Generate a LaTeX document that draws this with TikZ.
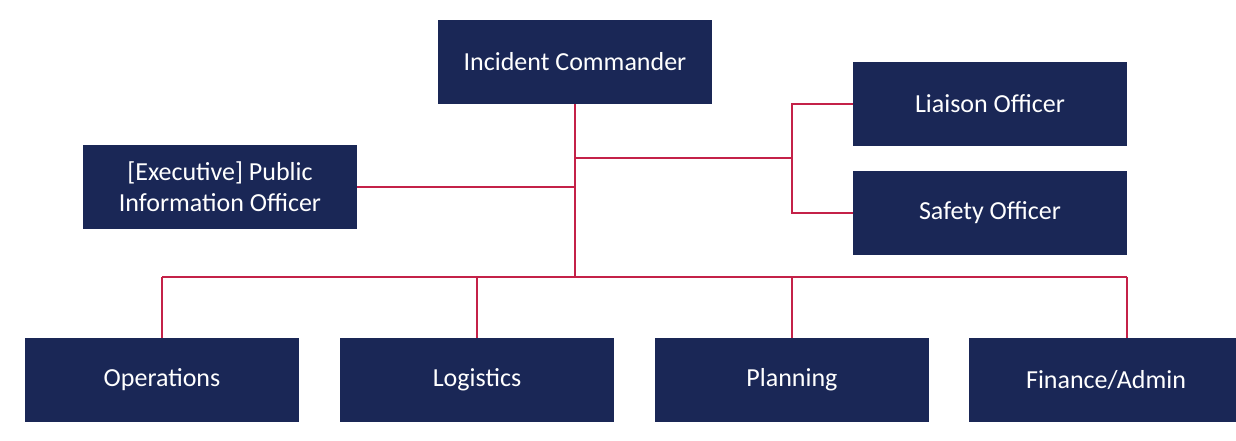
\documentclass[tikz,border=0pt]{standalone}
\usepackage{fontspec}
\setmainfont{Carlito}
\definecolor{navy}{HTML}{1A2756}
\definecolor{linkred}{HTML}{C42148}
\begin{document}
\begin{tikzpicture}[x=1pt,y=-1pt,
  box/.style={fill=navy, text=white, minimum width=274pt, minimum height=84pt, inner sep=0pt, align=center, font=\fontsize{26}{31}\selectfont},
  link/.style={draw=linkred, line width=1.3pt}]
\useasboundingbox (0,0) rectangle (1236,440);
\fill[white] (0,0) rectangle (1236,440);
\node[box] (ic) at (575,62) {Incident Commander};
\node[box] (pio) at (220,187) {[Executive] Public\\Information Officer};
\node[box] (lia) at (990,104) {Liaison Officer};
\node[box] (saf) at (990,213) {Safety Officer};
\node[box] (ops) at (162,380) {Operations};
\node[box] (log) at (477,380) {Logistics};
\node[box] (pla) at (792,380) {Planning};
\node[box] (fin) at (1106,380) {Finance/Admin};
\coordinate (hub) at (575,277);
\coordinate (mid) at (575,158);
\coordinate (pj) at (575,187);
\coordinate (rj) at (792,158);
\coordinate (opsj) at (162,277);
\coordinate (finj) at (1127,277);
\draw[link] (ic.south) -- (hub);
\draw[link] (pio.east) -- (pj);
\draw[link] (mid) -- (rj);
\draw[link] (lia.west) -| (rj) |- (saf.west);
\draw[link] (opsj) -- (finj);
\draw[link] (opsj) -- (ops.north -| opsj);
\draw[link] (log.north) -- (log.north |- hub);
\draw[link] (pla.north) -- (pla.north |- hub);
\draw[link] (finj) -- (finj |- fin.north);
\end{tikzpicture}
\end{document}
